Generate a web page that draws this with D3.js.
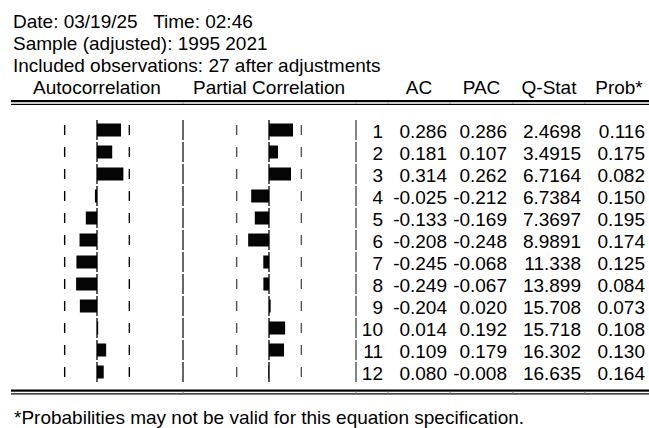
<!DOCTYPE html>
<html>
<head>
<meta charset="utf-8">
<script src="https://cdn.jsdelivr.net/npm/d3@7"></script>
<style>
  html, body { margin: 0; padding: 0; background: #fff; }
  svg text { font-family: "Liberation Sans", Arial, sans-serif; fill: #000; }
</style>
</head>
<body>
<svg id="chart" width="649" height="428"></svg>
<script>
// ---- data ----
const headerLines = [
  "Date: 03/19/25   Time: 02:46",
  "Sample (adjusted): 1995 2021",
  "Included observations: 27 after adjustments"
];
const columnHeaders = ["AC", "PAC", "Q-Stat", "Prob*"];
const lags = [1, 2, 3, 4, 5, 6, 7, 8, 9, 10, 11, 12];
const acValues  = [0.286, 0.181, 0.314, -0.025, -0.133, -0.208, -0.245, -0.249, -0.204, 0.014, 0.109, 0.080];
const pacValues = [0.286, 0.107, 0.262, -0.212, -0.169, -0.248, -0.068, -0.067, 0.020, 0.192, 0.179, -0.008];
const qStats    = ["2.4698", "3.4915", "6.7164", "6.7384", "7.3697", "8.9891", "11.338", "13.899", "15.708", "15.718", "16.302", "16.635"];
const probs     = ["0.116", "0.175", "0.082", "0.150", "0.195", "0.174", "0.125", "0.084", "0.073", "0.108", "0.130", "0.164"];
const nObs = 27;
const footnote = "*Probabilities may not be valid for this equation specification.";

// ---- layout ----
const svg = d3.select("#chart");
const fontSize = 19;
const W = 649;
const pitch = 22;
const base0 = 27.5;                      // baseline of first text row
const baseline = r => base0 + r * pitch; // r = grid row index
const bound = 2 / Math.sqrt(nObs);

const xAC  = d3.scaleLinear().domain([-1, 1]).range([13, 181]);
const xPAC = d3.scaleLinear().domain([-1, 1]).range([185, 353]);

// lag -> grid row (rows 5..16)
const rowIdx = d3.scaleLinear().domain([1, 12]).range([5, 16]);
const barH = 13;

// header text lines
svg.selectAll("text.hdr").data(headerLines).join("text")
  .attr("class", "hdr")
  .attr("x", 13)
  .attr("y", (d, i) => baseline(i))
  .attr("font-size", fontSize)
  .attr("xml:space", "preserve")
  .style("white-space", "pre")
  .text(d => d);

// column headers
const headerBase = baseline(3);
svg.append("text").attr("x", xAC(0)).attr("y", headerBase).attr("text-anchor", "middle")
  .attr("font-size", fontSize).text("Autocorrelation");
svg.append("text").attr("x", xPAC(0)).attr("y", headerBase).attr("text-anchor", "middle")
  .attr("font-size", fontSize).text("Partial Correlation");

const colBounds = [388, 450, 513, 585, 649];
svg.selectAll("text.colh").data(columnHeaders).join("text")
  .attr("class", "colh")
  .attr("x", (d, i) => (colBounds[i] + colBounds[i + 1]) / 2 + (i === 3 ? 2 : 0))
  .attr("y", headerBase)
  .attr("text-anchor", "middle")
  .attr("font-size", fontSize)
  .text(d => d);

// double lines
function doubleLine(y) {
  svg.append("rect").attr("x", 11).attr("y", y).attr("width", W - 11).attr("height", 2.2).attr("fill", "#000");
  svg.append("rect").attr("x", 11).attr("y", y + 3.8).attr("width", W - 11).attr("height", 1.2).attr("fill", "#000");
  [183, 356].concat(colBounds.slice(0, 4)).forEach(x => {
    svg.append("line").attr("x1", x).attr("x2", x).attr("y1", y + 2.2).attr("y2", y + 3.8)
      .attr("stroke", "#888").attr("stroke-width", 1);
  });
}
doubleLine(100);
doubleLine(389.5);

// rows
const rows = lags.map((lag, i) => ({lag, ac: acValues[i], pac: pacValues[i], q: qStats[i], p: probs[i]}));
const g = svg.append("g");

rows.forEach(r => {
  const bl = baseline(rowIdx(r.lag));
  const cy = bl - 7.5;
  const top = cy - pitch / 2 + 1, bot = cy + pitch / 2 - 1;
  // separators
  g.append("line").attr("x1", 183).attr("x2", 183).attr("y1", top).attr("y2", bot)
    .attr("stroke", "#000").attr("stroke-width", 1.2);
  g.append("line").attr("x1", 356).attr("x2", 356).attr("y1", top).attr("y2", bot)
    .attr("stroke", "#666").attr("stroke-width", 1.6);

  [[xAC, r.ac, "#000"], [xPAC, r.pac, "#555"]].forEach(([sc, v, tickCol]) => {
    // bound ticks
    [-bound, bound].forEach(b => {
      g.append("line").attr("x1", sc(b)).attr("x2", sc(b)).attr("y1", cy - 5).attr("y2", cy + 5)
        .attr("stroke", tickCol).attr("stroke-width", 1.4);
    });
    // bar
    g.append("rect")
      .attr("x", Math.min(sc(0), sc(v)))
      .attr("y", cy - barH / 2)
      .attr("width", Math.abs(sc(v) - sc(0)))
      .attr("height", barH)
      .attr("fill", "#050505");
    // zero line
    g.append("line").attr("x1", sc(0)).attr("x2", sc(0)).attr("y1", top).attr("y2", bot)
      .attr("stroke", "#000").attr("stroke-width", 1.3);
  });

  const fmt = v => v.toFixed(3);
  const cells = [
    [383, String(r.lag)],
    [447, fmt(r.ac)],
    [507, fmt(r.pac)],
    [581, r.q],
    [645, r.p]
  ];
  cells.forEach(([x, t]) => {
    g.append("text").attr("x", x).attr("y", bl).attr("text-anchor", "end")
      .attr("font-size", fontSize).text(t);
  });
});

svg.append("text").attr("x", 14).attr("y", baseline(18)).attr("font-size", fontSize).text(footnote);
</script>
</body>
</html>
